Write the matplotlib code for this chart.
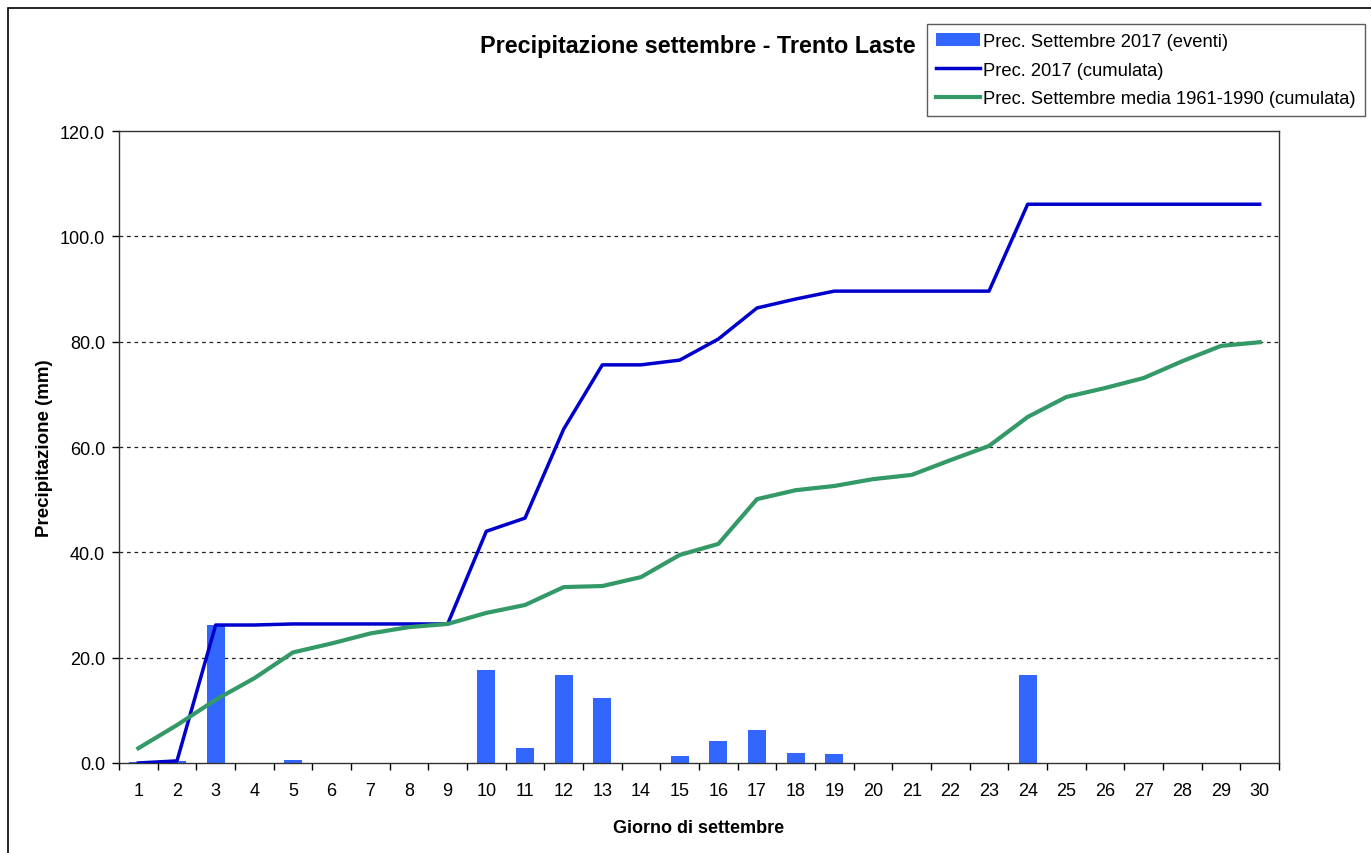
import numpy as np
import matplotlib.pyplot as plt
from matplotlib.patches import Rectangle

plt.rcParams['font.family'] = ['Liberation Sans', 'DejaVu Sans']

# dati
giorni = [str(d) for d in range(1, 31)]
prec_eventi = [0.1, 0.3, 26.2, 0.0, 0.5, 0.0, 0.0, 0.0, 0.0, 17.6,
               2.9, 16.7, 12.3, 0.0, 1.3, 4.2, 6.3, 1.9, 1.7, 0.0,
               0.0, 0.0, 0.0, 16.7, 0.0, 0.0, 0.0, 0.0, 0.0, 0.0]
prec_cumulata = [0.0, 0.4, 26.2, 26.2, 26.4, 26.4, 26.4, 26.4, 26.4, 44.0,
                 46.5, 63.4, 75.6, 75.6, 76.5, 80.5, 86.4, 88.1, 89.6, 89.6,
                 89.6, 89.6, 89.6, 106.1, 106.1, 106.1, 106.1, 106.1, 106.1, 106.1]
media_cumulata = [2.8, 7.2, 12.0, 16.1, 21.0, 22.7, 24.6, 25.8, 26.4, 28.5,
                  30.0, 33.4, 33.6, 35.3, 39.5, 41.6, 50.1, 51.8, 52.6, 53.9,
                  54.7, 57.5, 60.2, 65.7, 69.5, 71.2, 73.1, 76.3, 79.2, 79.9]
y_ticks = [0, 20, 40, 60, 80, 100, 120]

fig = plt.figure(figsize=(13.71, 8.54), dpi=100)
ax = fig.add_axes([0.0868, 0.1054, 0.8461, 0.7400])

x = np.arange(len(giorni))
b = ax.bar(x, prec_eventi, width=0.47, color='#3366FF', label='Prec. Settembre 2017 (eventi)', zorder=2)
l1, = ax.plot(x, prec_cumulata, color='#0000CC', linewidth=2.5, label='Prec. 2017 (cumulata)', zorder=3)
l2, = ax.plot(x, media_cumulata, color='#339966', linewidth=3, label='Prec. Settembre media 1961-1990 (cumulata)', zorder=3)

ax.set_xlim(-0.5, len(giorni) - 0.5)
ax.set_ylim(0, 120)
ax.set_yticks(y_ticks)
ax.set_yticklabels(['%.1f' % v for v in y_ticks])
ax.set_xticks(x)
ax.set_xticklabels(giorni)
ax.set_xticks(np.arange(-0.5, len(giorni)), minor=True)
ax.tick_params(axis='x', which='major', length=0, pad=14, labelsize=13)
ax.tick_params(axis='x', which='minor', length=5, width=1, direction='out')
ax.tick_params(axis='y', length=5, width=1, direction='out', labelsize=13, pad=5)

for v in y_ticks[1:-1]:
    ax.axhline(v, color='#222222', linestyle=(0, (3, 3)), linewidth=0.9, zorder=1)

for s in ax.spines.values():
    s.set_color('#333333')
    s.set_linewidth(1)

ax.set_xlabel('Giorno di settembre', fontsize=13, fontweight='bold', labelpad=14)
ax.set_ylabel('Precipitazione (mm)', fontsize=13.5, fontweight='bold', labelpad=5)
fig.text(0.509, 0.946, 'Precipitazione settembre - Trento Laste', fontsize=16.8,
         fontweight='bold', ha='center', va='center')

leg = fig.legend([b, l1, l2], [b.get_label(), l1.get_label(), l2.get_label()],
                 loc='upper right', bbox_to_anchor=(0.9956, 0.9707), fontsize=13.2,
                 frameon=True, fancybox=False, handlelength=2.4, handletextpad=0.15,
                 labelspacing=0.62, borderpad=0.5, borderaxespad=0)
leg.get_frame().set_edgecolor('#333333')
leg.get_frame().set_linewidth(1)

# cornice esterna
fig.patches.append(Rectangle((8 / 1371, -0.1), 1.2, (854 - 9) / 854 + 0.1,
                             transform=fig.transFigure, fill=False,
                             edgecolor='black', linewidth=1.2))

fig.savefig('out.png', dpi=100)
